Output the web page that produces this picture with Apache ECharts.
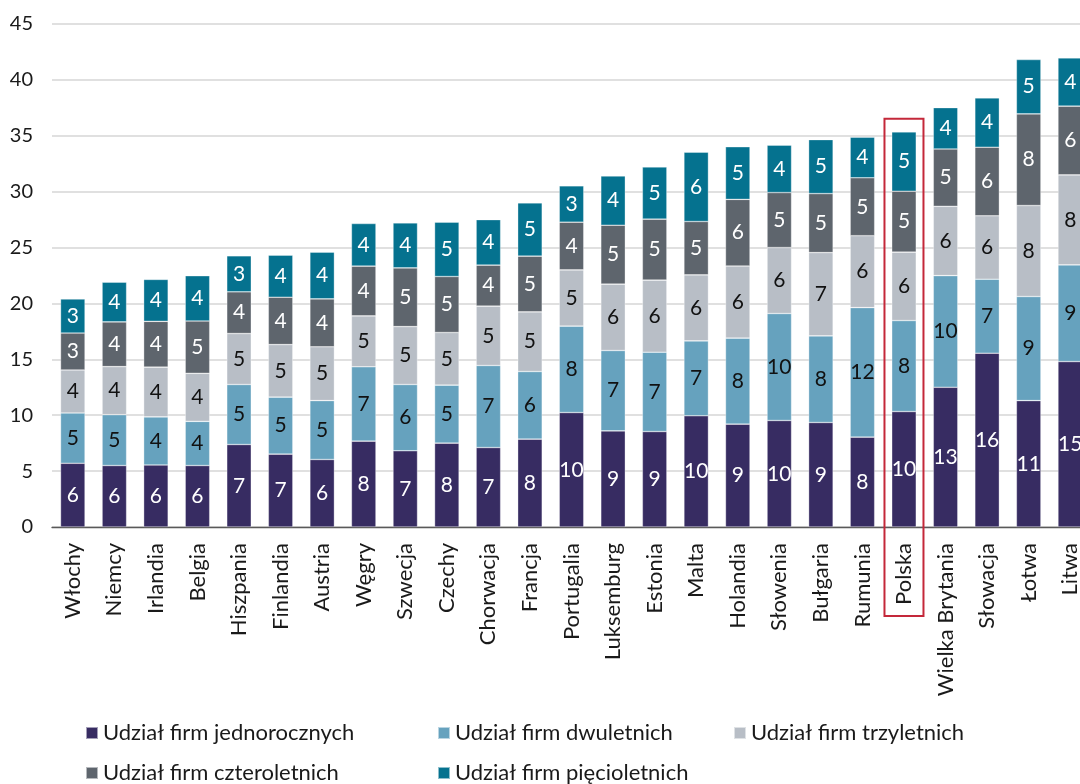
<!DOCTYPE html>
<html>
<head>
<meta charset="utf-8">
<script src="https://cdn.jsdelivr.net/npm/echarts@6/dist/echarts.min.js"></script>
<style>
html,body{margin:0;padding:0;background:#fff;overflow:hidden;}
#chart{width:1091px;height:784px;}
</style>
</head>
<body>
<div id="chart"></div>
<script>
const categories = ['Włochy','Niemcy','Irlandia','Belgia','Hiszpania','Finlandia','Austria','Węgry','Szwecja','Czechy','Chorwacja','Francja','Portugalia','Luksemburg','Estonia','Malta','Holandia','Słowenia','Bułgaria','Rumunia','Polska','Wielka Brytania','Słowacja','Łotwa','Litwa'];
const seriesNames = ['Udział firm jednorocznych','Udział firm dwuletnich','Udział firm trzyletnich','Udział firm czteroletnich','Udział firm pięcioletnich'];
const jednoroczne = [5.7,5.5,5.55,5.5,7.38,6.52,6.04,7.68,6.82,7.5,7.11,7.86,10.24,8.6,8.54,9.95,9.2,9.53,9.35,8.04,10.33,12.5,15.55,11.31,14.8];
const dwuletnie = [4.5,4.55,4.3,3.95,5.37,5.1,5.27,6.65,5.93,5.19,7.34,6.05,7.73,7.19,7.1,6.7,7.7,9.57,7.75,11.59,8.14,9.99,6.62,9.31,8.65];
const trzyletnie = [3.85,4.3,4.45,4.3,4.56,4.7,4.81,4.56,5.18,4.71,5.31,5.34,5.03,5.94,6.45,5.91,6.45,5.9,7.45,6.43,6.12,6.2,5.67,8.14,8.05];
const czteroletnie = [3.3,4.0,4.1,4.68,3.73,4.24,4.29,4.45,5.25,5.01,3.67,4.98,4.27,5.27,5.45,4.77,5.96,4.92,5.28,5.18,5.45,5.13,6.14,8.2,6.15];
const piecioletnie = [3.05,3.55,3.75,4.05,3.22,3.76,4.18,3.81,4.03,4.86,4.07,4.77,3.25,4.4,4.67,6.2,4.71,4.24,4.83,3.63,5.31,3.7,4.41,4.86,4.32];
const yTicks = {min:0, max:45, interval:5};
const highlighted = 'Polska';

const colors = ['#372C62','#66A2BE','#B8BEC6','#5E656D','#05728F'];
const labelColors = ['#ffffff','#111111','#111111','#ffffff','#ffffff'];
const dataSets = [jednoroczne,dwuletnie,trzyletnie,czteroletnie,piecioletnie];
const FONT = 'Lato';

const chart = echarts.init(document.getElementById('chart'));
const series = seriesNames.map((n,i)=>({
  name:n, type:'bar', stack:'all', barWidth:'59%',
  data:dataSets[i],
  itemStyle:{color:colors[i], borderColor:'rgba(255,255,255,0.55)', borderWidth:0.6},
  label:{show:true, position:'inside', color:labelColors[i], fontFamily:FONT, fontSize:21,
    formatter:p=>Math.round(p.value)},
  emphasis:{disabled:true}
}));
const legendPos = [[85,722],[437,722],[733,722],[85,762],[437,762]];
const legends = seriesNames.map((n,i)=>({
  data:[n], left:legendPos[i][0], top:legendPos[i][1], itemWidth:12, itemHeight:12,
  icon:'rect', padding:0, textStyle:{fontFamily:FONT, fontSize:22, color:'#1a1a1a'}, selectedMode:false
}));
chart.setOption({
  animation:false,
  grid:{left:52, top:24, right:0, height:503},
  legend:legends,
  xAxis:{type:'category', data:categories,
    axisTick:{show:false},
    axisLine:{lineStyle:{color:'#595959', width:1.3}},
    axisLabel:{rotate:90, margin:16, fontFamily:FONT, fontSize:22, color:'#1a1a1a', interval:0}},
  yAxis:{type:'value', min:yTicks.min, max:yTicks.max, interval:yTicks.interval,
    axisLine:{show:false}, axisTick:{show:false},
    splitLine:{lineStyle:{color:'#d6d6d6', width:1.5}},
    axisLabel:{margin:19, fontFamily:FONT, fontSize:20, color:'#1a1a1a'}},
  series:series
});
const idx = categories.indexOf(highlighted);
let total = 0; dataSets.forEach(d=>total+=d[idx]);
const pTop = chart.convertToPixel({xAxisIndex:0,yAxisIndex:0},[highlighted,total]);
const pZero = chart.convertToPixel({xAxisIndex:0,yAxisIndex:0},[highlighted,0]);
chart.setOption({graphic:[{type:'rect', shape:{x:pTop[0]-19.5, y:pTop[1]-13, width:39, height:(pZero[1]+89)-(pTop[1]-13)},
  style:{fill:'none', stroke:'#C4283A', lineWidth:2}, z:100}]});
</script>
</body>
</html>
